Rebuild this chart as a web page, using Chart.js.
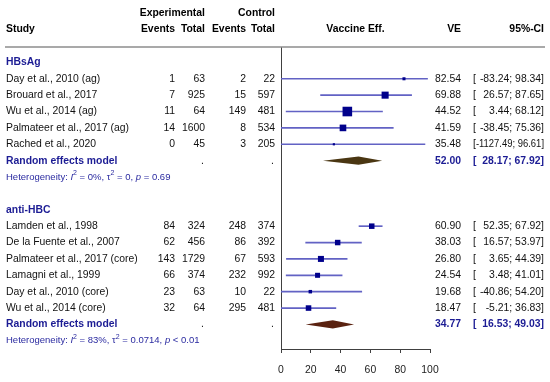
<!DOCTYPE html>
<html>
<head>
<meta charset="utf-8">
<script src="https://cdn.jsdelivr.net/npm/chart.js@4"></script>
<style>
  html, body { margin: 0; padding: 0; background: #fff; }
  #wrap { width: 550px; height: 382px; }
</style>
</head>
<body>
<div id="wrap"><canvas id="forest" width="550" height="382"></canvas></div>
<script>
// === Data ===
const groups = ['HBsAg', 'anti-HBC'];
const studyGroup = [0, 0, 0, 0, 0, 1, 1, 1, 1, 1, 1];
const studies = [
  'Day et al., 2010 (ag)', 'Brouard et al., 2017', 'Wu et al., 2014 (ag)',
  'Palmateer et al., 2017 (ag)', 'Rached et al., 2020',
  'Lamden et al., 1998', 'De la Fuente et al., 2007', 'Palmateer et al., 2017 (core)',
  'Lamagni et al., 1999', 'Day et al., 2010 (core)', 'Wu et al., 2014 (core)'
];
const expEvents = [1, 7, 11, 14, 0, 84, 62, 143, 66, 23, 32];
const expTotal = [63, 925, 64, 1600, 45, 324, 456, 1729, 374, 63, 64];
const ctrlEvents = [2, 15, 149, 8, 3, 248, 86, 67, 232, 10, 295];
const ctrlTotal = [22, 597, 481, 534, 205, 374, 392, 593, 992, 22, 481];
const ve = [82.54, 69.88, 44.52, 41.59, 35.48, 60.90, 38.03, 26.80, 24.54, 19.68, 18.47];
const ciLow = [-83.24, 26.57, 3.44, -38.45, -1127.49, 52.35, 16.57, 3.65, 3.48, -40.86, -5.21];
const ciHigh = [98.34, 87.65, 68.12, 75.36, 96.61, 67.92, 53.97, 44.39, 41.01, 54.20, 36.83];
const weights = [4.6, 25, 46, 22, 2.4, 15.2, 15.0, 18.1, 12.6, 6.1, 15.4];

const pooledVE = [52.00, 34.77];
const pooledLow = [28.17, 16.53];
const pooledHigh = [67.92, 49.03];
const hetI2 = ['0%', '83%'];
const hetTau2 = ['0', '0.0714'];
const hetP = ['= 0.69', '< 0.01'];

const xTicks = [0, 20, 40, 60, 80, 100];

// === Row layout: group header, studies, pooled, heterogeneity, blank ===
const studyRow = [];
const groupRow = [];
const pooledRow = [];
const hetRow = [];
let r = 0;
groups.forEach((g, gi) => {
  groupRow.push(r);
  studies.forEach((s, i) => { if (studyGroup[i] === gi) studyRow[i] = ++r; });
  pooledRow.push(++r);
  hetRow.push(++r);
  r += 2;
});

// === Styling ===
const FAMILY = "'Liberation Sans', Arial, sans-serif";
const BLUE = '#1c1c94';
const col = { study: 6, expEv: 175, expTot: 205, ctrlEv: 246, ctrlTot: 275, ve: 461, ciL: 473, ciR: 544 };
const diamondColors = ['#4a3612', '#5a2210'];

function f(size, weight, style) {
  return (style || 'normal') + ' ' + (weight || 'normal') + ' ' + size + 'px ' + FAMILY;
}
function put(ctx, s, x, y, align, font, color, maxW) {
  ctx.font = font;
  ctx.fillStyle = color;
  ctx.textAlign = align;
  ctx.textBaseline = 'middle';
  if (maxW) ctx.fillText(s, x, y, maxW);
  else ctx.fillText(s, x, y);
}
function fmt(v) { return v.toFixed(2); }

// bracket on the left, interval right aligned, squeezed if it is too wide
function putCI(ctx, lo, hi, y, font, color) {
  put(ctx, '[', col.ciL, y, 'left', font, color);
  const room = col.ciR - col.ciL - ctx.measureText('[').width;
  put(ctx, fmt(lo) + '; ' + fmt(hi) + ']', col.ciR, y, 'right', font, color, room);
}

// pooled diamonds, drawn through the scales
const diamondPlugin = {
  id: 'diamonds',
  afterDatasetsDraw(chart) {
    const { ctx, scales: { x, y } } = chart;
    ctx.save();
    groups.forEach((g, gi) => {
      const row = pooledRow[gi];
      ctx.beginPath();
      ctx.moveTo(x.getPixelForValue(pooledLow[gi]), y.getPixelForValue(row));
      ctx.lineTo(x.getPixelForValue(pooledVE[gi]), y.getPixelForValue(row - 0.25));
      ctx.lineTo(x.getPixelForValue(pooledHigh[gi]), y.getPixelForValue(row));
      ctx.lineTo(x.getPixelForValue(pooledVE[gi]), y.getPixelForValue(row + 0.25));
      ctx.closePath();
      ctx.fillStyle = diamondColors[gi];
      ctx.fill();
    });
    ctx.restore();
  }
};

// table text around the plot
const tablePlugin = {
  id: 'table',
  afterDraw(chart) {
    const { ctx, scales: { x, y } } = chart;
    const ry = v => y.getPixelForValue(v);
    ctx.save();

    // header
    const hb = f(10.4, 'bold');
    put(ctx, 'Experimental', col.expTot, ry(-3), 'right', hb, '#000');
    put(ctx, 'Control', col.ctrlTot, ry(-3), 'right', hb, '#000');
    put(ctx, 'Study', col.study, ry(-2), 'left', hb, '#000');
    put(ctx, 'Events', col.expEv, ry(-2), 'right', hb, '#000');
    put(ctx, 'Total', col.expTot, ry(-2), 'right', hb, '#000');
    put(ctx, 'Events', col.ctrlEv, ry(-2), 'right', hb, '#000');
    put(ctx, 'Total', col.ctrlTot, ry(-2), 'right', hb, '#000');
    put(ctx, 'Vaccine Eff.', (x.left + x.right) / 2, ry(-2), 'center', hb, '#000');
    put(ctx, 'VE', col.ve, ry(-2), 'right', hb, '#000');
    put(ctx, '95%-CI', col.ciR, ry(-2), 'right', hb, '#000');

    ctx.strokeStyle = '#8c8c8c';
    ctx.lineWidth = 1.5;
    ctx.beginPath();
    ctx.moveTo(5, chart.chartArea.top);
    ctx.lineTo(545, chart.chartArea.top);
    ctx.stroke();

    const nf = f(10.4);
    studies.forEach((s, i) => {
      const yy = ry(studyRow[i]);
      put(ctx, s, col.study, yy, 'left', nf, '#111');
      put(ctx, String(expEvents[i]), col.expEv, yy, 'right', nf, '#111');
      put(ctx, String(expTotal[i]), col.expTot, yy, 'right', nf, '#111');
      put(ctx, String(ctrlEvents[i]), col.ctrlEv, yy, 'right', nf, '#111');
      put(ctx, String(ctrlTotal[i]), col.ctrlTot, yy, 'right', nf, '#111');
      put(ctx, fmt(ve[i]), col.ve, yy, 'right', nf, '#111');
      putCI(ctx, ciLow[i], ciHigh[i], yy, nf, '#111');
    });

    groups.forEach((g, gi) => {
      put(ctx, g, col.study, ry(groupRow[gi]), 'left', hb, BLUE);

      const py = ry(pooledRow[gi]);
      put(ctx, 'Random effects model', col.study, py, 'left', hb, BLUE);
      put(ctx, '.', col.expTot - 1, py, 'right', nf, '#111');
      put(ctx, '.', col.ctrlTot - 1, py, 'right', nf, '#111');
      put(ctx, fmt(pooledVE[gi]), col.ve, py, 'right', hb, BLUE);
      putCI(ctx, pooledLow[gi], pooledHigh[gi], py, hb, BLUE);

      // heterogeneity line with italics and superscripts
      const hy = ry(hetRow[gi]);
      const parts = [
        ['Heterogeneity: ', 'n'], ['I', 'i'], ['2', 's'], [' = ' + hetI2[gi] + ', ', 'n'],
        ['\u03c4', 'n'], ['2', 's'], [' = ' + hetTau2[gi] + ', ', 'n'],
        ['p', 'i'], [' ' + hetP[gi], 'n']
      ];
      let hx = col.study;
      parts.forEach(([t, k]) => {
        const font = k === 'i' ? f(9.5, 'normal', 'italic') : k === 's' ? f(7, 'normal') : f(9.5);
        const yy = k === 's' ? hy - 4 : hy;
        put(ctx, t, hx, yy, 'left', font, '#2a2aa0');
        hx += ctx.measureText(t).width;
      });
    });

    ctx.restore();
  }
};

new Chart(document.getElementById('forest'), {
  type: 'scatter',
  data: {
    datasets: [
      {
        type: 'scatter',
        label: 'VE',
        data: studies.map((s, i) => ({ x: ve[i], y: studyRow[i] })),
        pointStyle: 'rect',
        pointRadius: c => Math.sqrt(weights[c.dataIndex]),
        pointBorderWidth: 0,
        backgroundColor: '#00008b',
        borderColor: '#00008b'
      },
      {
        type: 'bar',
        label: '95%-CI',
        indexAxis: 'y',
        data: studies.map((s, i) => ({ x: [ciLow[i], ciHigh[i]], y: studyRow[i] })),
        barThickness: 1,
        backgroundColor: '#6262c4',
        borderWidth: 0
      }
    ]
  },
  options: {
    responsive: false,
    animation: false,
    layout: { padding: { left: 281, right: 120, top: 47, bottom: 0 } },
    plugins: { legend: { display: false }, tooltip: { enabled: false } },
    scales: {
      x: {
        type: 'linear',
        min: 0,
        max: 100,
        afterBuildTicks: axis => { axis.ticks = xTicks.map(v => ({ value: v })); },
        afterFit: axis => { axis.height = 33; },
        grid: {
          color: c => (c.tick && c.tick.value === 0 ? '#404040' : 'rgba(0,0,0,0)'),
          tickColor: '#404040',
          tickLength: 4,
          drawTicks: true
        },
        border: { display: true, color: '#404040', width: 1 },
        ticks: { padding: 11, color: '#222', font: { family: FAMILY, size: 10.4 } }
      },
      y: {
        type: 'linear',
        reverse: true,
        min: -0.94,
        max: 17.5,
        offset: false,
        display: false
      }
    }
  },
  plugins: [diamondPlugin, tablePlugin]
});
</script>
</body>
</html>
